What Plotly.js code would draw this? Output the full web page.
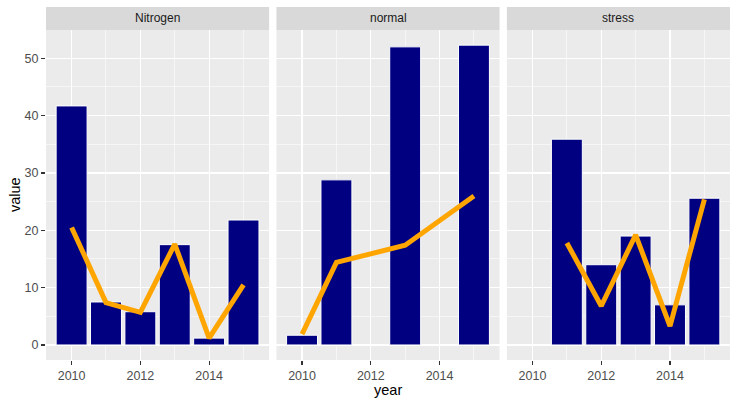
<!DOCTYPE html>
<html>
<head>
<meta charset="utf-8">
<script src="https://cdn.plot.ly/plotly-3.0.1.min.js"></script>
<style>
	body { margin: 0; padding: 0; background: #ffffff; }
	#chart { width: 738px; height: 405px; }
</style>
</head>
<body>
<div id="chart"></div>
<script>

// facet names
var panels = ['Nitrogen', 'normal', 'stress'];

// Nitrogen
var years_nitrogen = [2010, 2011, 2012, 2013, 2014, 2015];
var bars_nitrogen = [41.7, 7.5, 5.8, 17.5, 1.2, 21.8];
var line_nitrogen = [20.5, 7.4, 5.7, 17.6, 1.2, 10.5];

// normal
var years_normal = [2010, 2011, 2013, 2015];
var bars_normal = [1.7, 28.8, 52.0, 52.3];
var line_normal = [1.9, 14.4, 17.4, 26.0];

// stress
var years_stress = [2011, 2012, 2013, 2014, 2015];
var bars_stress = [35.9, 14.0, 19.0, 7.0, 25.6];
var line_stress = [17.8, 6.8, 19.2, 3.3, 25.4];

var year_ticks = [2010, 2012, 2014];
var year_minor = [2011, 2013, 2015];
var value_ticks = [0, 10, 20, 30, 40, 50];
var value_minor = [5, 15, 25, 35, 45];

var navy = '#000080';
var orange = '#FFA500';
var font_family = 'Liberation Sans, Arial, sans-serif';

function bar_trace(x, y, n) {
	var sfx = n == 1 ? '' : String(n);
	return {
		x: x,
		y: y,
		type: 'bar',
		width: 0.9,
		xaxis: 'x' + sfx,
		yaxis: 'y' + sfx,
		marker: {color: navy, line: {color: '#ffffff', width: 1}},
		hoverinfo: 'skip'
	};
}

function line_trace(x, y, n) {
	var sfx = n == 1 ? '' : String(n);
	return {
		x: x,
		y: y,
		type: 'scatter',
		mode: 'lines',
		xaxis: 'x' + sfx,
		yaxis: 'y' + sfx,
		line: {color: orange, width: 5},
		hoverinfo: 'skip'
	};
}

var data = [
	bar_trace(years_nitrogen, bars_nitrogen, 1),
	line_trace(years_nitrogen, line_nitrogen, 1),
	bar_trace(years_normal, bars_normal, 2),
	line_trace(years_normal, line_normal, 2),
	bar_trace(years_stress, bars_stress, 3),
	line_trace(years_stress, line_stress, 3)
];

var tick_font = {family: font_family, size: 12.5, color: '#4D4D4D'};

function x_axis(domain) {
	return {
		domain: domain,
		range: [2009.255, 2015.745],
		tickmode: 'array',
		tickvals: year_ticks,
		ticks: 'outside',
		ticklen: 4,
		tickwidth: 1.1,
		tickcolor: '#333333',
		tickfont: tick_font,
		showgrid: true,
		gridcolor: '#ffffff',
		gridwidth: 1.1,
		minor: {tickmode: 'array', tickvals: year_minor, showgrid: true, gridcolor: '#ffffff', gridwidth: 0.55, ticks: ''},
		zeroline: false,
		showline: false,
		fixedrange: true
	};
}

function y_axis(anchor, labels) {
	return {
		anchor: anchor,
		domain: [0, 1],
		range: [-2.62, 54.94],
		tickmode: 'array',
		tickvals: value_ticks,
		showticklabels: labels,
		ticks: labels ? 'outside' : '',
		ticklen: 4,
		tickwidth: 1.1,
		tickcolor: '#333333',
		tickfont: tick_font,
		showgrid: true,
		gridcolor: '#ffffff',
		gridwidth: 1.1,
		minor: {tickmode: 'array', tickvals: value_minor, showgrid: true, gridcolor: '#ffffff', gridwidth: 0.55, ticks: ''},
		zeroline: false,
		showline: false,
		fixedrange: true
	};
}

// strip height relative to the panel height (23px of 330px)
var strip_h = 23 / 330;

var shapes = [];
var annotations = [];
var axis_names = ['x', 'x2', 'x3'];
for (var i = 0; i < panels.length; i++) {
	shapes.push({
		type: 'rect',
		xref: axis_names[i] + ' domain',
		yref: 'paper',
		x0: 0, x1: 1,
		y0: 1, y1: 1 + strip_h,
		fillcolor: '#D9D9D9',
		line: {width: 0},
		layer: 'below'
	});
	annotations.push({
		text: panels[i],
		xref: axis_names[i] + ' domain',
		yref: 'paper',
		x: 0.5,
		y: 1 + strip_h / 2,
		xanchor: 'center',
		yanchor: 'middle',
		showarrow: false,
		font: {family: font_family, size: 12, color: '#1A1A1A'}
	});
}

annotations.push({
	text: 'year',
	xref: 'paper', yref: 'paper',
	x: 0.5, y: -30 / 330,
	xanchor: 'center', yanchor: 'middle',
	showarrow: false,
	font: {family: font_family, size: 14.5, color: '#000000'}
});
annotations.push({
	text: 'value',
	xref: 'paper', yref: 'paper',
	x: -31 / 684, y: 0.5,
	xanchor: 'center', yanchor: 'middle',
	textangle: -90,
	showarrow: false,
	font: {family: font_family, size: 14.5, color: '#000000'}
});

var layout = {
	width: 738,
	height: 405,
	margin: {l: 46, r: 8, t: 30, b: 45, pad: 0},
	paper_bgcolor: '#ffffff',
	plot_bgcolor: '#EBEBEB',
	showlegend: false,
	hovermode: false,
	xaxis: x_axis([0, 0.3262]),
	xaxis2: x_axis([0.3369, 0.6631]),
	xaxis3: x_axis([0.6738, 1]),
	yaxis: y_axis('x', true),
	yaxis2: y_axis('x2', false),
	yaxis3: y_axis('x3', false),
	shapes: shapes,
	annotations: annotations
};

Plotly.newPlot('chart', data, layout, {displayModeBar: false, staticPlot: true});

</script>
</body>
</html>
